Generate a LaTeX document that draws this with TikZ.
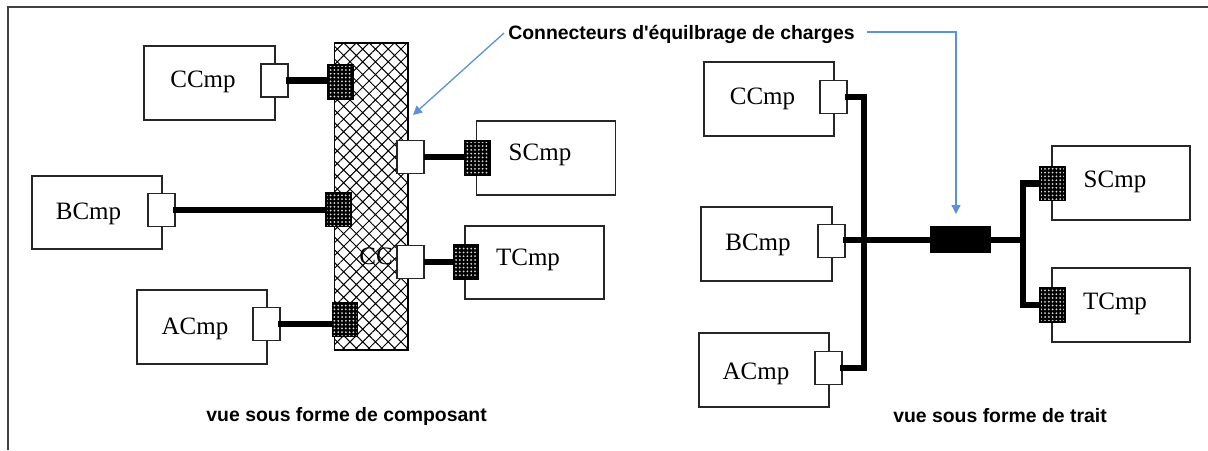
\documentclass[tikz,border=0pt]{standalone}
\usepackage{fontspec}
\setmainfont{Liberation Serif}
\newfontfamily\lbsans{Liberation Sans}
\usetikzlibrary{patterns.meta,arrows.meta,calc}
\definecolor{callblue}{RGB}{91,145,215}
\definecolor{frame}{RGB}{64,64,64}
\begin{document}
\begin{tikzpicture}[x=1pt,y=-1pt,
  box/.style={draw=black!85, line width=1.8, fill=white, rectangle, inner sep=0},
  wport/.style={draw=black!85, line width=1.8, fill=white, rectangle, inner sep=0, minimum width=27, minimum height=33},
  hport/.style={draw=black, line width=1.4, rectangle, inner sep=0, minimum width=25, minimum height=34,
     preaction={fill=black}, pattern={Dots[distance=3.8pt, radius=1.0pt]}, pattern color=white!85!black},
  wire/.style={line width=6.5, line join=miter},
  lbl/.style={font=\fontsize{25}{30}\selectfont, anchor=base, inner sep=0},
  capt/.style={font=\lbsans\bfseries\fontsize{19.4}{23}\selectfont, anchor=base, inner sep=0},
  callout/.style={draw=callblue, line width=1.3, -{Triangle[width=9pt,length=9pt]}}]
\useasboundingbox (0,0) rectangle (1208,450);
% frame
\draw[frame, line width=2] (8,450) -- (8,7) -- (1208,7);

% ---------- left view ----------
\node[draw=black, line width=1.6, rectangle, inner sep=0, minimum width=73.5, minimum height=307,
      preaction={fill=white}, pattern={Hatch[angle=45, distance=9pt, line width=1pt]}, pattern color=black]
      (bus) at (371.3,196.5) {};
\node[lbl] (cctxt) at (376,264.5) {CC};

\node[box, minimum width=131, minimum height=74] (lC) at (209.5,83) {};
\node[box, minimum width=130, minimum height=73] (lB) at (97,212.5) {};
\node[box, minimum width=139, minimum height=74] (lS) at (546,158) {};
\node[box, minimum width=130, minimum height=74] (lA) at (202,327) {};
\node[box, minimum width=139, minimum height=73] (lT) at (534.5,262.5) {};
\node[lbl] at (203,87.5) {CCmp};
\node[lbl] at (88.5,219.5) {BCmp};
\node[lbl] at (195,334.5) {ACmp};
\node[lbl] at (540,160.5) {SCmp};
\node[lbl] at (528,265.5) {TCmp};

\node[wport] (lpC) at (274.5,80.5) {};
\node[wport] (lpB) at (161.5,210) {};
\node[wport] (lpA) at (266.5,324) {};
\node[wport] (lpbS) at (410.5,157) {};
\node[wport] (lpbT) at (410.5,262) {};

\draw[wire] ($(lpC.east)+(-3,0)$) -- ($(lpC.east)+(50,0)$);
\draw[wire] ($(lpB.east)+(-3,0)$) -- ($(lpB.center)+(175,0)$);
\draw[wire] ($(lpA.east)+(-3,0)$) -- ($(lpA.center)+(75,0)$);
\draw[wire] ($(lpbS.east)+(-1,0)$) -- ($(lpbS.center)+(65,0)$);
\draw[wire] ($(lpbT.east)+(-1,0)$) -- ($(lpbT.center)+(55,0)$);

\node[hport] (lhC) at (340.5,82) {};
\node[hport] (lhB) at (338.5,209.5) {};
\node[hport] (lhA) at (345,319.5) {};
\node[hport] (lhS) at (477.3,158) {};
\node[hport] (lhT) at (466,262) {};

\node[capt] at (346.6,421.5) {vue sous forme de composant};

% ---------- right view ----------
\node[box, minimum width=130, minimum height=74] (rC) at (769,99) {};
\node[box, minimum width=131, minimum height=74] (rB) at (766.5,244) {};
\node[box, minimum width=130, minimum height=74] (rA) at (764,370) {};
\node[box, minimum width=138.5, minimum height=74] (rS) at (1121,183) {};
\node[box, minimum width=138.5, minimum height=74] (rT) at (1121,305) {};
\node[lbl] at (762.5,104.5) {CCmp};
\node[lbl] at (758,250.5) {BCmp};
\node[lbl] at (756,379.5) {ACmp};
\node[lbl] at (1115,187.5) {SCmp};
\node[lbl] at (1115,309.5) {TCmp};

\node[wport] (rpC) at (833.5,97) {};
\node[wport] (rpB) at (831.5,241) {};
\node[wport] (rpA) at (828.5,368) {};

\coordinate (jL) at (864,240);
\coordinate (jR) at (1023,240);
\draw[wire] ($(rpC.east)+(-3,0)$) -| (jL) |- ($(rpA.east)+(-3,0)$);
\draw[wire] ($(rpB.east)+(-3,-1)$) -- (jL) -- (jR);

\draw[wire] (1052.5,183.5) -| (jR) |- (1052.5,305);
\node[hport] (rhS) at (1052.5,183.5) {};
\node[hport] (rhT) at (1052.5,305) {};

\node[fill=black, draw=black, rectangle, inner sep=0, minimum width=60, minimum height=26] (lbc) at (960,239) {};

\node[capt] at (1000,422.5) {vue sous forme de trait};

% ---------- callouts ----------
\node[capt] (title) at (681.5,39) {Connecteurs d'équilbrage de charges};
\coordinate (c1s) at (504,33);
\coordinate (c1e) at (413,115);
\draw[callout] (c1s) -- (c1e);
\coordinate (c2s) at (867,32);
\coordinate (c2e) at (956,214);
\draw[callout] (c2s) -| (c2e);
\end{tikzpicture}
\end{document}
